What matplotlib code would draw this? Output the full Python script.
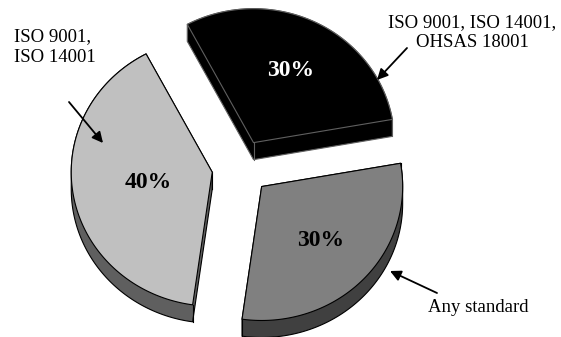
import numpy as np
import matplotlib
matplotlib.use('Agg')
import matplotlib.pyplot as plt
from matplotlib.patches import Polygon

# slices, counter-clockwise from the start angle
names = ['ISO 9001, ISO 14001,\nOHSAS 18001', 'ISO 9001,\nISO 14001', 'Any standard']
shares = [30, 40, 30]
pct_labels = ['30%', '40%', '30%']

top_colors = ['#000000', '#c0c0c0', '#808080']
side_colors = ['#000000', '#5f5f5f', '#404040']
edge_colors = ['#606060', '#000000', '#000000']
pct_colors = ['white', 'black', 'black']

# layout (pixel coordinates, y down)
cx, cy = 240.8, 167.4
R = 141.
k = 0.95          # vertical squash of the tilted disc
explode = 29.
depth = 17.
start = 10.
label_r = [0.60, 0.46, 0.58]

plt.rcParams['font.family'] = ['Liberation Serif', 'DejaVu Serif']


def hull(pts):
    pts = sorted(set(map(tuple, np.round(pts, 3))))
    def cross(o, a, b):
        return (a[0]-o[0])*(b[1]-o[1]) - (a[1]-o[1])*(b[0]-o[0])
    lower, upper = [], []
    for p in pts:
        while len(lower) >= 2 and cross(lower[-2], lower[-1], p) <= 0:
            lower.pop()
        lower.append(p)
    for p in reversed(pts):
        while len(upper) >= 2 and cross(upper[-2], upper[-1], p) <= 0:
            upper.pop()
        upper.append(p)
    return np.array(lower[:-1] + upper[:-1])


fig = plt.figure(figsize=(5.61, 3.37), dpi=100)
ax = fig.add_axes([0, 0, 1, 1])
ax.set_xlim(0, 561)
ax.set_ylim(337, 0)
ax.axis('off')

total = float(sum(shares))
a0 = start
z = 1
for i, s in enumerate(shares):
    a1 = a0 + 360. * s / total
    mid = np.radians((a0 + a1) / 2.)
    vx = cx + explode*np.cos(mid)
    vy = cy - k*explode*np.sin(mid)
    th = np.radians(np.linspace(a0, a1, 120))
    arc = np.column_stack([vx + R*np.cos(th), vy - k*R*np.sin(th)])
    top = np.vstack([[vx, vy], arc])
    low = top + [0, depth]

    # side band
    side = hull(np.vstack([top, low]))
    ax.add_patch(Polygon(side, closed=True, fc=side_colors[i],
                         ec=edge_colors[i], lw=0.8, joinstyle='round',
                         zorder=z))
    for p in [top[0], top[1], top[-1]]:
        ax.plot([p[0], p[0]], [p[1], p[1]+depth], color=edge_colors[i],
                lw=0.8, zorder=z+1)
    # top face
    ax.add_patch(Polygon(top, closed=True, fc=top_colors[i],
                         ec=edge_colors[i], lw=0.8, joinstyle='round',
                         zorder=z+2))

    lr = label_r[i]*R
    ax.text(vx + lr*np.cos(mid), vy - k*lr*np.sin(mid), pct_labels[i],
            ha='center', va='center', fontsize=17, fontweight='bold',
            color=pct_colors[i], zorder=20)
    a0 = a1
    z += 3

arrow = dict(arrowstyle='-|>', color='k', lw=1.3, mutation_scale=16,
             shrinkA=0, shrinkB=0)

ax.annotate('', xy=(377, 80), xytext=(407, 48), arrowprops=arrow, zorder=21)
ax.text(472, 51, names[0], fontsize=13.5, ha='center', va='bottom',
        linespacing=1.2)
ax.annotate('', xy=(103, 143), xytext=(69, 102), arrowprops=arrow, zorder=21)
ax.text(14, 66, names[1], fontsize=13.5, ha='left', va='bottom',
        linespacing=1.3)
ax.annotate('', xy=(390, 271), xytext=(437, 293), arrowprops=arrow, zorder=21)
ax.text(478, 307, names[2], fontsize=13.5, ha='center', va='center')

fig.savefig('out.png', dpi=100)
